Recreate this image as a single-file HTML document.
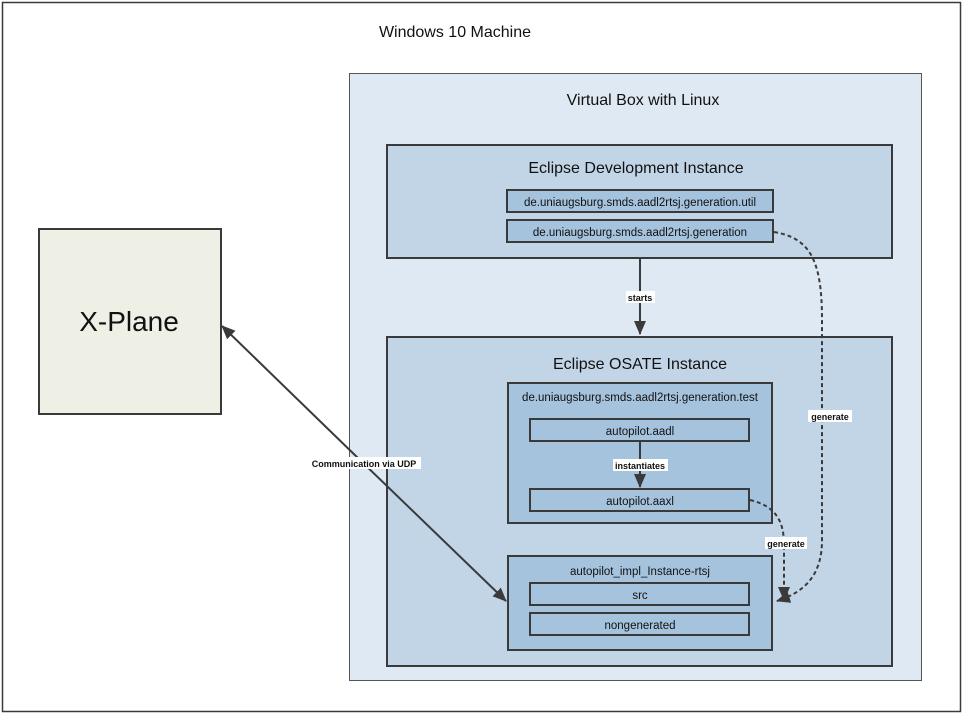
<html><body style="margin:0;width:965px;height:715px;background:#fff;font-family:'Liberation Sans','DejaVu Sans',sans-serif;">
<svg width="965" height="715" xmlns="http://www.w3.org/2000/svg" style="position:absolute;left:0;top:0">
<defs>
<marker id="b" markerWidth="14" markerHeight="12" refX="13" refY="6" orient="auto" markerUnits="userSpaceOnUse"><path d="M0,0 L14,6 L0,12 z" fill="#3a3a3a"/></marker>
</defs>
<g stroke="#3a3a3a" font-family="'Liberation Sans','DejaVu Sans',sans-serif" fill="#000">
<rect x="2.5" y="2.5" width="958" height="709" fill="#fff" stroke-width="1.5"/>
<rect x="349.5" y="73.5" width="572" height="607" fill="#dfe9f3" stroke="#555" stroke-width="1"/>
<rect x="387" y="145" width="505" height="113" fill="#c2d5e7" stroke-width="2"/>
<rect x="507" y="190" width="266" height="22" fill="#a6c3de" stroke-width="2"/>
<rect x="507" y="220" width="266" height="22" fill="#a6c3de" stroke-width="2"/>
<rect x="387" y="337" width="505" height="329" fill="#c2d5e7" stroke-width="2"/>
<rect x="508" y="383" width="264" height="140" fill="#a6c3de" stroke-width="2"/>
<rect x="530" y="419" width="219" height="22" fill="#a6c3de" stroke-width="2"/>
<rect x="530" y="489" width="219" height="22" fill="#a6c3de" stroke-width="2"/>
<rect x="508" y="556" width="264" height="94" fill="#a6c3de" stroke-width="2"/>
<rect x="530" y="583" width="219" height="22" fill="#a6c3de" stroke-width="2"/>
<rect x="530" y="613" width="219" height="22" fill="#a6c3de" stroke-width="2"/>
<rect x="39" y="229" width="182" height="185" fill="#eef0e6" stroke-width="2"/>
<line x1="640" y1="259" x2="640" y2="334" stroke-width="2" marker-end="url(#b)"/>
<line x1="640" y1="442" x2="640" y2="487" stroke-width="2" marker-end="url(#b)"/>
<line x1="360" y1="460" x2="222" y2="326" stroke-width="2" marker-end="url(#b)"/>
<line x1="360" y1="460" x2="506" y2="601" stroke-width="2" marker-end="url(#b)"/>
<path d="M774,232 C810,238 822,260 822,320 L822,540 C822,575 805,592 777,601" fill="none" stroke-width="2" stroke-dasharray="4,3" marker-end="url(#b)"/>
<path d="M750,500 C775,506 784,520 784,545 L784,600" fill="none" stroke-width="2" stroke-dasharray="4,3" marker-end="url(#b)"/>
</g>
<g font-family="'Liberation Sans','DejaVu Sans',sans-serif" fill="#111" text-anchor="middle">
<text x="455" y="37" font-size="16">Windows 10 Machine</text>
<text x="643" y="105" font-size="16">Virtual Box with Linux</text>
<text x="636" y="173" font-size="16">Eclipse Development Instance</text>
<text x="640" y="206" font-size="11.5">de.uniaugsburg.smds.aadl2rtsj.generation.util</text>
<text x="640" y="236" font-size="11.5">de.uniaugsburg.smds.aadl2rtsj.generation</text>
<text x="640" y="369" font-size="16">Eclipse OSATE Instance</text>
<text x="640" y="401" font-size="11.5">de.uniaugsburg.smds.aadl2rtsj.generation.test</text>
<text x="640" y="435" font-size="11.5">autopilot.aadl</text>
<text x="640" y="505" font-size="11.5">autopilot.aaxl</text>
<text x="640" y="575" font-size="11.5">autopilot_impl_Instance-rtsj</text>
<text x="640" y="599" font-size="11.5">src</text>
<text x="640" y="629" font-size="11.5">nongenerated</text>
<text x="129" y="331" font-size="28">X-Plane</text>
<rect x="626" y="291" width="29" height="12" fill="#fff"/>
<text x="640" y="301" font-size="9" font-weight="bold">starts</text>
<rect x="613" y="459" width="55" height="12" fill="#fff"/>
<text x="640" y="469" font-size="9" font-weight="bold">instantiates</text>
<rect x="307" y="457" width="114" height="12" fill="#fff"/>
<text x="364" y="467" font-size="9" font-weight="bold">Communication via UDP</text>
<rect x="808" y="410" width="44" height="12" fill="#fff"/>
<text x="830" y="420" font-size="9" font-weight="bold">generate</text>
<rect x="765" y="537" width="42" height="12" fill="#fff"/>
<text x="786" y="547" font-size="9" font-weight="bold">generate</text>
</g>
</svg>
</body></html>
